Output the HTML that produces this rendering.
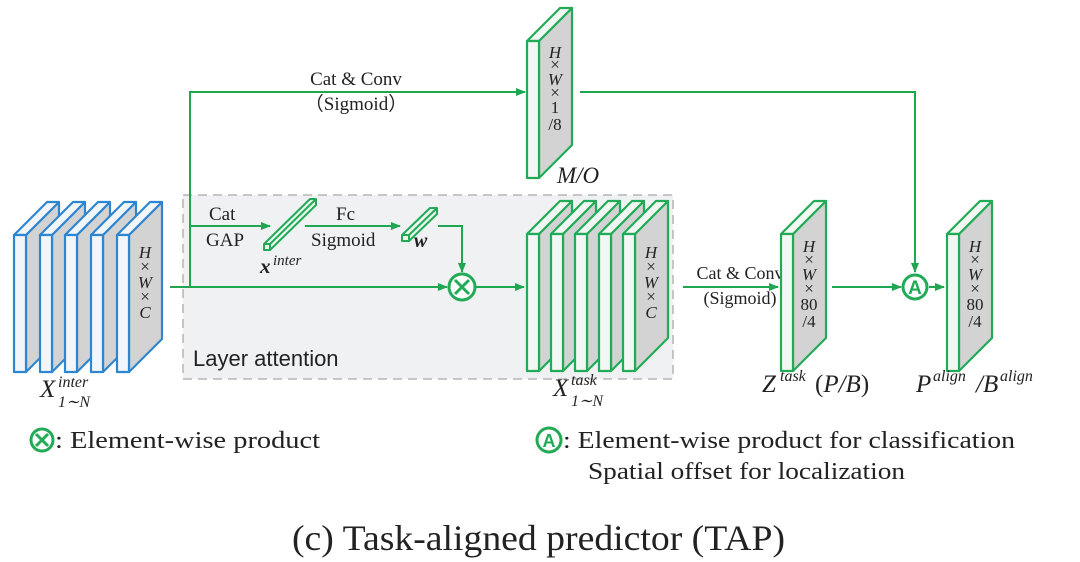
<!DOCTYPE html>
<html><head><meta charset="utf-8"><style>
html,body{margin:0;padding:0;background:#fff;}
svg{display:block;}
text{font-family:"Liberation Serif",serif;fill:#222;}
.it{font-style:italic;}
.dim{font-size:17px;fill:#333;font-style:italic;}
</style></head><body>
<svg width="1080" height="562" viewBox="0 0 1080 562" xmlns="http://www.w3.org/2000/svg">
<defs>
<marker id="ar" markerWidth="10" markerHeight="8" refX="9" refY="4" orient="auto" markerUnits="userSpaceOnUse">
<path d="M0,0 L10,4 L0,8 Z" fill="#1fa650"/></marker>
<g id="sb" stroke="#2f86d0" stroke-width="2.2" stroke-linejoin="round">
<polygon points="12,0 45,-33 45,104 12,137" fill="#d3d3d3"/>
<polygon points="0,0 33,-33 45,-33 12,0" fill="#f2f6fa"/>
<rect x="0" y="0" width="12" height="137" fill="#f2f6fa"/>
</g>
<g id="sg" stroke="#22ab57" stroke-width="2.2" stroke-linejoin="round">
<polygon points="12,0 45,-33 45,104 12,137" fill="#d3d3d3"/>
<polygon points="0,0 33,-33 45,-33 12,0" fill="#f2f7f3"/>
<rect x="0" y="0" width="12" height="137" fill="#f2f7f3"/>
</g>
</defs>
<rect width="1080" height="562" fill="#fff"/>
<rect x="183" y="195" width="490" height="184" fill="#eff1f3" stroke="#b5b5b5" stroke-width="1.5" stroke-dasharray="9,6"/>
<text x="193" y="366" font-size="22" style="font-family:'Liberation Sans',sans-serif">Layer attention</text>

<use href="#sb" x="14" y="235"/>
<use href="#sb" x="40" y="235"/>
<use href="#sb" x="65" y="235"/>
<use href="#sb" x="91" y="235"/>
<use href="#sb" x="117" y="235"/>
<g class="dim" text-anchor="middle">
<text x="145" y="258">H</text><text x="145" y="272" style="font-style:normal">×</text><text x="145" y="288">W</text><text x="145" y="302" style="font-style:normal">×</text><text x="145" y="318">C</text>
</g>
<text x="40" y="397" font-size="25" class="it">X</text>
<text x="58" y="387" font-size="16" class="it">inter</text>
<text x="58" y="407" font-size="16" class="it">1∼N</text>

<g stroke="#1fa650" stroke-width="2" fill="none">
<line x1="170" y1="287" x2="447" y2="287" marker-end="url(#ar)"/>
<polyline points="190,287 190,92 525,92" marker-end="url(#ar)"/>
<line x1="190" y1="226" x2="270" y2="226" marker-end="url(#ar)"/>
<line x1="305" y1="226" x2="400" y2="226" marker-end="url(#ar)"/>
<polyline points="438,226 462,226 462,272" marker-end="url(#ar)"/>
<line x1="476" y1="287" x2="524" y2="287" marker-end="url(#ar)"/>
<line x1="683" y1="287" x2="778" y2="287" marker-end="url(#ar)"/>
<polyline points="580,92 915,92 915,272" marker-end="url(#ar)"/>
<line x1="832" y1="287" x2="901" y2="287" marker-end="url(#ar)"/>
<line x1="929" y1="287" x2="944" y2="287" marker-end="url(#ar)"/>
</g>

<g stroke="#22ab57" stroke-width="2" fill="#eaf6ee" stroke-linejoin="round">
<polygon points="264,244 310,199 316,199 316,205 270,250 264,250"/>
<line x1="264" y1="244" x2="270" y2="244"/><line x1="270" y1="244" x2="270" y2="250"/><line x1="270" y1="244" x2="316" y2="199"/>
<polygon points="402,235 430,208 437,208 437,214 409,241 402,241"/>
<line x1="402" y1="235" x2="409" y2="235"/><line x1="409" y1="235" x2="409" y2="241"/><line x1="409" y1="235" x2="437" y2="208"/>
</g>
<text x="209" y="220" font-size="19">Cat</text>
<text x="206" y="246" font-size="19">GAP</text>
<text x="336" y="220" font-size="19">Fc</text>
<text x="311" y="246" font-size="19">Sigmoid</text>
<text x="260" y="273" font-size="21" class="it" font-weight="bold">x</text>
<text x="273" y="265" font-size="15" class="it">inter</text>
<text x="414" y="247" font-size="20" class="it" font-weight="bold">w</text>

<circle cx="462" cy="287" r="13" fill="#fff" stroke="#22ab57" stroke-width="3"/>
<path d="M455,280 L469,294 M469,280 L455,294" stroke="#22ab57" stroke-width="3"/>

<text x="356" y="85" font-size="19" text-anchor="middle">Cat &amp; Conv</text>
<text x="356" y="110" font-size="19" text-anchor="middle">（Sigmoid）</text>

<use href="#sg" x="527" y="41"/>
<g class="dim" text-anchor="middle">
<text x="555" y="58">H</text><text x="555" y="70" style="font-style:normal">×</text><text x="555" y="85">W</text><text x="555" y="98" style="font-style:normal">×</text><text x="555" y="113" style="font-style:normal">1</text><text x="555" y="130" style="font-style:normal">/8</text>
</g>
<text x="557" y="183" font-size="23" class="it">M/O</text>

<use href="#sg" x="527" y="234"/>
<use href="#sg" x="551" y="234"/>
<use href="#sg" x="575" y="234"/>
<use href="#sg" x="599" y="234"/>
<use href="#sg" x="623" y="234"/>
<g class="dim" text-anchor="middle">
<text x="651" y="258">H</text><text x="651" y="272" style="font-style:normal">×</text><text x="651" y="288">W</text><text x="651" y="302" style="font-style:normal">×</text><text x="651" y="318">C</text>
</g>
<text x="553" y="396" font-size="25" class="it">X</text>
<text x="571" y="385" font-size="16" class="it">task</text>
<text x="571" y="406" font-size="16" class="it">1∼N</text>

<text x="740" y="279" font-size="18" text-anchor="middle">Cat &amp; Conv</text>
<text x="740" y="304" font-size="18" text-anchor="middle">(Sigmoid)</text>

<use href="#sg" x="781" y="234"/>
<g class="dim" text-anchor="middle">
<text x="809" y="252">H</text><text x="809" y="265" style="font-style:normal">×</text><text x="809" y="280">W</text><text x="809" y="294" style="font-style:normal">×</text><text x="809" y="310" style="font-style:normal">80</text><text x="809" y="327" style="font-style:normal">/4</text>
</g>
<text x="762" y="392" font-size="25" class="it">Z</text>
<text x="780" y="381" font-size="16" class="it">task</text>
<text x="815" y="392" font-size="25">(<tspan class="it">P/B</tspan>)</text>

<circle cx="915" cy="287" r="12" fill="#fff" stroke="#22ab57" stroke-width="3"/>
<text x="915" y="294" font-size="19" text-anchor="middle" font-weight="bold" style="fill:#22ab57;font-family:'Liberation Sans',sans-serif">A</text>

<use href="#sg" x="947" y="234"/>
<g class="dim" text-anchor="middle">
<text x="975" y="252">H</text><text x="975" y="265" style="font-style:normal">×</text><text x="975" y="280">W</text><text x="975" y="294" style="font-style:normal">×</text><text x="975" y="310" style="font-style:normal">80</text><text x="975" y="327" style="font-style:normal">/4</text>
</g>
<text x="916" y="392" font-size="25" class="it">P</text>
<text x="933" y="381" font-size="16" class="it">align</text>
<text x="976" y="392" font-size="25" class="it">/B</text>
<text x="1000" y="381" font-size="16" class="it">align</text>

<circle cx="42" cy="440" r="11" fill="#fff" stroke="#22ab57" stroke-width="3"/>
<path d="M36,434 L48,446 M48,434 L36,446" stroke="#22ab57" stroke-width="3"/>
<text x="55" y="448" font-size="24" textLength="265" lengthAdjust="spacingAndGlyphs">: Element-wise product</text>
<circle cx="549" cy="440" r="12" fill="#fff" stroke="#22ab57" stroke-width="3"/>
<text x="549" y="447" font-size="18" text-anchor="middle" font-weight="bold" style="fill:#22ab57;font-family:'Liberation Sans',sans-serif">A</text>
<text x="563" y="448" font-size="24" textLength="452" lengthAdjust="spacingAndGlyphs">: Element-wise product for classification</text>
<text x="588" y="479" font-size="24" textLength="317" lengthAdjust="spacingAndGlyphs">Spatial offset for localization</text>
<text x="292" y="550" font-size="36" textLength="493" lengthAdjust="spacingAndGlyphs">(c)  Task-aligned predictor (TAP)</text>
</svg>
</body></html>
